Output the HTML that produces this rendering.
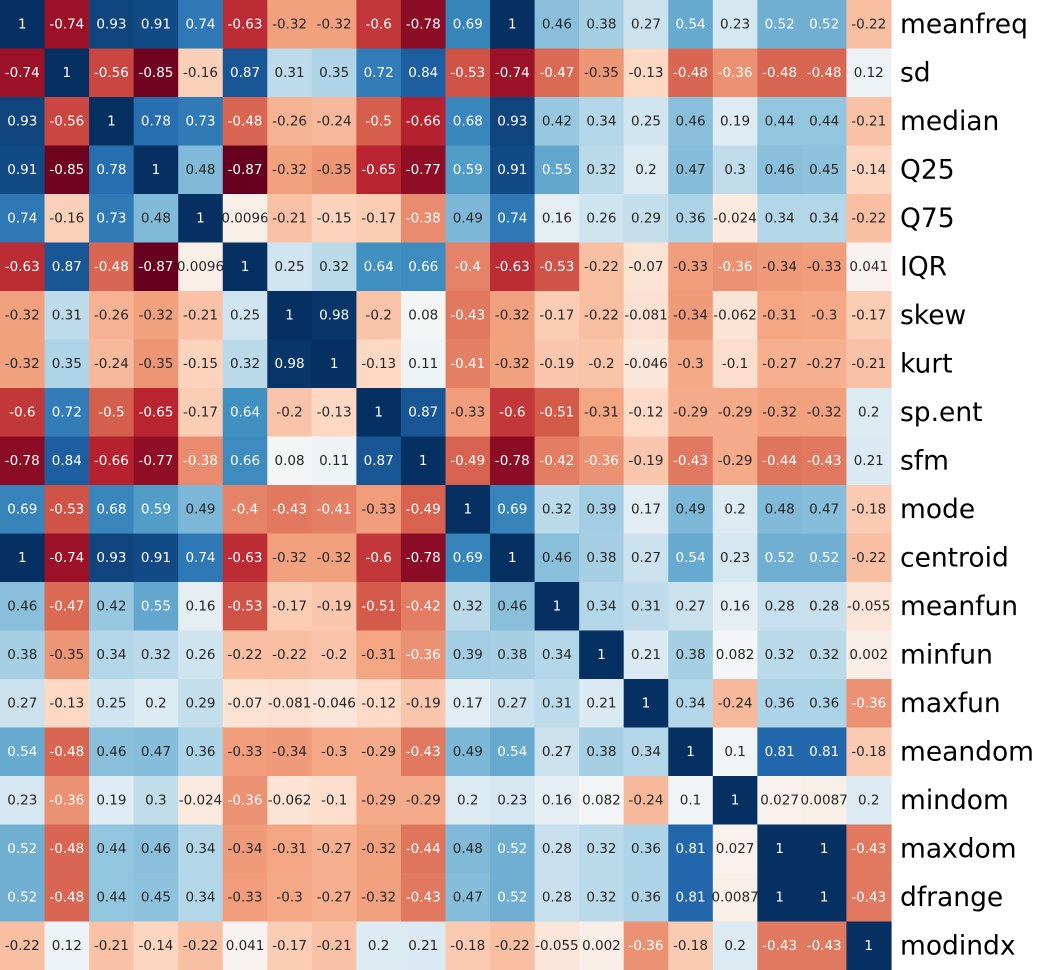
<!DOCTYPE html>
<html><head><meta charset="utf-8"><style>
html,body{margin:0;padding:0;background:#fff;}
svg{display:block;font-family:"DejaVu Sans","Liberation Sans",sans-serif;}
</style></head><body>
<svg id="chart" width="1040" height="970" viewBox="0 0 1040 970" xmlns="http://www.w3.org/2000/svg">
<g id="cells"></g>
<g id="labels"></g>
</svg>
<script>
const categories = ["meanfreq","sd","median","Q25","Q75","IQR","skew","kurt","sp.ent","sfm","mode","centroid","meanfun","minfun","maxfun","meandom","mindom","maxdom","dfrange","modindx"];
const r_meanfreq = [1,-0.74,0.93,0.91,0.74,-0.63,-0.32,-0.32,-0.6,-0.78,0.69,1,0.46,0.38,0.27,0.54,0.23,0.52,0.52,-0.22];
const r_sd = [-0.74,1,-0.56,-0.85,-0.16,0.87,0.31,0.35,0.72,0.84,-0.53,-0.74,-0.47,-0.35,-0.13,-0.48,-0.36,-0.48,-0.48,0.12];
const r_median = [0.93,-0.56,1,0.78,0.73,-0.48,-0.26,-0.24,-0.5,-0.66,0.68,0.93,0.42,0.34,0.25,0.46,0.19,0.44,0.44,-0.21];
const r_q25 = [0.91,-0.85,0.78,1,0.48,-0.87,-0.32,-0.35,-0.65,-0.77,0.59,0.91,0.55,0.32,0.2,0.47,0.3,0.46,0.45,-0.14];
const r_q75 = [0.74,-0.16,0.73,0.48,1,0.0096,-0.21,-0.15,-0.17,-0.38,0.49,0.74,0.16,0.26,0.29,0.36,-0.024,0.34,0.34,-0.22];
const r_iqr = [-0.63,0.87,-0.48,-0.87,0.0096,1,0.25,0.32,0.64,0.66,-0.4,-0.63,-0.53,-0.22,-0.07,-0.33,-0.36,-0.34,-0.33,0.041];
const r_skew = [-0.32,0.31,-0.26,-0.32,-0.21,0.25,1,0.98,-0.2,0.08,-0.43,-0.32,-0.17,-0.22,-0.081,-0.34,-0.062,-0.31,-0.3,-0.17];
const r_kurt = [-0.32,0.35,-0.24,-0.35,-0.15,0.32,0.98,1,-0.13,0.11,-0.41,-0.32,-0.19,-0.2,-0.046,-0.3,-0.1,-0.27,-0.27,-0.21];
const r_spent = [-0.6,0.72,-0.5,-0.65,-0.17,0.64,-0.2,-0.13,1,0.87,-0.33,-0.6,-0.51,-0.31,-0.12,-0.29,-0.29,-0.32,-0.32,0.2];
const r_sfm = [-0.78,0.84,-0.66,-0.77,-0.38,0.66,0.08,0.11,0.87,1,-0.49,-0.78,-0.42,-0.36,-0.19,-0.43,-0.29,-0.44,-0.43,0.21];
const r_mode = [0.69,-0.53,0.68,0.59,0.49,-0.4,-0.43,-0.41,-0.33,-0.49,1,0.69,0.32,0.39,0.17,0.49,0.2,0.48,0.47,-0.18];
const r_centroid = [1,-0.74,0.93,0.91,0.74,-0.63,-0.32,-0.32,-0.6,-0.78,0.69,1,0.46,0.38,0.27,0.54,0.23,0.52,0.52,-0.22];
const r_meanfun = [0.46,-0.47,0.42,0.55,0.16,-0.53,-0.17,-0.19,-0.51,-0.42,0.32,0.46,1,0.34,0.31,0.27,0.16,0.28,0.28,-0.055];
const r_minfun = [0.38,-0.35,0.34,0.32,0.26,-0.22,-0.22,-0.2,-0.31,-0.36,0.39,0.38,0.34,1,0.21,0.38,0.082,0.32,0.32,0.002];
const r_maxfun = [0.27,-0.13,0.25,0.2,0.29,-0.07,-0.081,-0.046,-0.12,-0.19,0.17,0.27,0.31,0.21,1,0.34,-0.24,0.36,0.36,-0.36];
const r_meandom = [0.54,-0.48,0.46,0.47,0.36,-0.33,-0.34,-0.3,-0.29,-0.43,0.49,0.54,0.27,0.38,0.34,1,0.1,0.81,0.81,-0.18];
const r_mindom = [0.23,-0.36,0.19,0.3,-0.024,-0.36,-0.062,-0.1,-0.29,-0.29,0.2,0.23,0.16,0.082,-0.24,0.1,1,0.027,0.0087,0.2];
const r_maxdom = [0.52,-0.48,0.44,0.46,0.34,-0.34,-0.31,-0.27,-0.32,-0.44,0.48,0.52,0.28,0.32,0.36,0.81,0.027,1,1,-0.43];
const r_dfrange = [0.52,-0.48,0.44,0.45,0.34,-0.33,-0.3,-0.27,-0.32,-0.43,0.47,0.52,0.28,0.32,0.36,0.81,0.0087,1,1,-0.43];
const r_modindx = [-0.22,0.12,-0.21,-0.14,-0.22,0.041,-0.17,-0.21,0.2,0.21,-0.18,-0.22,-0.055,0.002,-0.36,-0.18,0.2,-0.43,-0.43,1];
const matrix = [r_meanfreq,r_sd,r_median,r_q25,r_q75,r_iqr,r_skew,r_kurt,r_spent,r_sfm,r_mode,r_centroid,r_meanfun,r_minfun,r_maxfun,r_meandom,r_mindom,r_maxdom,r_dfrange,r_modindx];

const NS="http://www.w3.org/2000/svg";
const W=891, H=970, n=categories.length, cw=W/n, ch=H/n;
const xPos=i=>i*cw, yPos=i=>i*ch;
const allVals=matrix.flat();
const vmin=Math.min(...allVals), vmax=Math.max(...allVals);
const stops=["#67001f","#b2182b","#d6604d","#f4a582","#fddbc7","#f7f7f7","#d1e5f0","#92c5de","#4393c3","#2166ac","#053061"].map(h=>[1,3,5].map(k=>parseInt(h.substr(k,2),16)));
function cmap(v){
  let t=(v-vmin)/(vmax-vmin)*10;
  t=Math.max(0,Math.min(10,t));
  let i=Math.min(9,Math.floor(t)), f=t-i;
  return stops[i].map((c,k)=>c+(stops[i+1][k]-c)*f);
}
function lum(rgb){
  const c=rgb.map(x=>{x/=255;return x<=0.03928?x/12.92:Math.pow((x+0.055)/1.055,2.4);});
  return 0.2126*c[0]+0.7152*c[1]+0.0722*c[2];
}
const gc=document.getElementById('cells'), gl=document.getElementById('labels');
matrix.forEach((row,r)=>{
  row.forEach((v,c)=>{
    const rgb=cmap(v);
    const rect=document.createElementNS(NS,'rect');
    
    
    rect.setAttribute('x',xPos(c));rect.setAttribute('y',yPos(r));
    rect.setAttribute('width',cw+0.6);rect.setAttribute('height',ch+0.6);
    rect.setAttribute('fill','rgb('+rgb.map(Math.round).join(',')+')');
    gc.appendChild(rect);
    const t=document.createElementNS(NS,'text');
    
    
    t.setAttribute('x',xPos(c)+cw/2);t.setAttribute('y',yPos(r)+ch/2);
    t.setAttribute('text-anchor','middle');t.setAttribute('dominant-baseline','central');
    t.setAttribute('font-size','13.5');
    t.setAttribute('fill',lum(rgb)>0.408?'#262626':'#ffffff');
    t.textContent=String(v);
    gc.appendChild(t);
  });
});
categories.forEach((name,r)=>{
  const t=document.createElementNS(NS,'text');
  
  
  t.setAttribute('x',900);t.setAttribute('y',yPos(r)+ch/2);
  t.setAttribute('dominant-baseline','central');
  t.setAttribute('font-size','26.5');t.setAttribute('fill','#000');
  t.textContent=name;
  gl.appendChild(t);
});
</script>
</body></html>
